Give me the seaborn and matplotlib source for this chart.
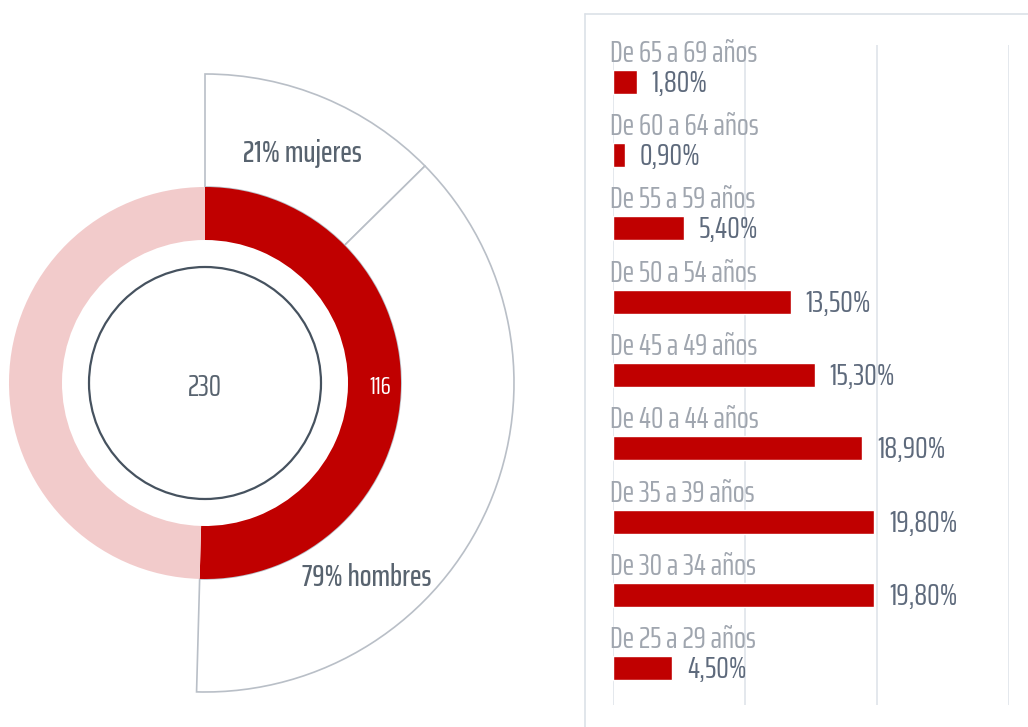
import matplotlib
matplotlib.use("Agg")
import matplotlib.pyplot as plt
from matplotlib.patches import Circle
from matplotlib.lines import Line2D
import seaborn as sns
import pandas as pd

# ---------------- data ----------------
age_groups = ["De 65 a 69 años", "De 60 a 64 años", "De 55 a 59 años",
              "De 50 a 54 años", "De 45 a 49 años", "De 40 a 44 años",
              "De 35 a 39 años", "De 30 a 34 años", "De 25 a 29 años"]
age_pct = [1.8, 0.9, 5.4, 13.5, 15.3, 18.9, 19.8, 19.8, 4.5]

total_count = 230
highlight_count = 116
ring_values = [highlight_count, total_count - highlight_count]

gender_labels = ["21% mujeres", "79% hombres"]
gender_wedges = [29, 87]          # angular share
grid_ticks = [0, 10, 20, 30]

# ---------------- style ----------------
sns.set_theme(style="white")
FONT = ["Saira ExtraCondensed", "Saira Condensed", "DejaVu Sans"]
plt.rcParams["font.family"] = FONT

RED = "#C00000"
PINK = "#F2CBCB"
LABEL_GREY = "#A0A6AF"
VALUE_GREY = "#5E6A7C"
TEXT_DARK = "#58636F"
GRID = "#E2E6EC"
EDGE = "#B9BFC7"

W, H = 1028, 727
fig = plt.figure(figsize=(W / 100, H / 100), dpi=100)
fig.patch.set_facecolor("white")
renderer = fig.canvas.get_renderer()


def fit_size(sample, target_px, weight="normal"):
    t = fig.text(0, 0, sample, fontsize=20, fontweight=weight)
    w = t.get_window_extent(renderer=renderer).width
    t.remove()
    return 20 * target_px / w


CAT_FS = fit_size("De 65 a 69 años", 148)
VAL_FS = fit_size("19,80%", 68)
GEN_FS = fit_size("21% mujeres", 119, "medium")
TOT_FS = fit_size("230", 34)
HIL_FS = fit_size("116", 22)

# ---------------- left: donut ----------------
axL = fig.add_axes([0, 0, 580 / W, 1])
cx, cy = 205, H - 383

outer_vals = gender_wedges + [total_count - sum(gender_wedges)]
wedges, _ = axL.pie(outer_vals, radius=309, center=(cx, cy), startangle=90,
                    counterclock=False, colors=["white", "white", "white"],
                    wedgeprops=dict(width=113, edgecolor=EDGE, linewidth=1.2))
wedges[2].set_visible(False)

ring, _ = axL.pie(ring_values, radius=196, center=(cx, cy), startangle=90,
                  counterclock=False, colors=[RED, PINK],
                  wedgeprops=dict(width=53, linewidth=0))
for w in ring:
    w.set_zorder(3)

axL.add_patch(Circle((cx, cy), 116, facecolor="white", edgecolor="#46525F",
                     linewidth=1.6, zorder=4))

axL.text(cx, cy - 4, str(total_count), ha="center", va="center",
         fontsize=TOT_FS, color=TEXT_DARK, zorder=5)
axL.text(380, cy - 4, str(highlight_count), ha="center", va="center",
         fontsize=HIL_FS, color="white", zorder=5)
axL.text(302, H - 153, gender_labels[0], ha="center", va="center",
         fontsize=GEN_FS, color=TEXT_DARK, fontweight="medium", zorder=5)
axL.text(367, H - 578, gender_labels[1], ha="center", va="center",
         fontsize=GEN_FS, color=TEXT_DARK, fontweight="medium", zorder=5)

axL.set_xlim(0, 580)
axL.set_ylim(0, H)
axL.set_aspect("auto")
axL.axis("off")

# ---------------- right: panel border ----------------
fig.add_artist(Line2D([585 / W, 1], [1 - 14 / H, 1 - 14 / H],
                      transform=fig.transFigure, color="#DCE1E8", lw=1.2))
fig.add_artist(Line2D([585 / W, 585 / W], [0, 1 - 14 / H],
                      transform=fig.transFigure, color="#DCE1E8", lw=1.2))

# ---------------- right: bars ----------------
axR = fig.add_axes([613 / W, 1 - 705 / H, (1009 - 613) / W, 660 / H])
df = pd.DataFrame({"grupo": age_groups, "pct": age_pct})
sns.barplot(data=df, x="pct", y="grupo", orient="h", color=RED,
            saturation=1, width=0.33, ax=axR, zorder=3)

axR.set_xlim(grid_ticks[0], grid_ticks[-1])
axR.set_ylim(len(age_groups) - 0.5, -0.5)
for t in grid_ticks:
    axR.axvline(t, color=GRID, lw=1.3, zorder=1)

for i, (lab, v) in enumerate(zip(age_groups, age_pct)):
    axR.text(-0.25, i - 0.39, lab, ha="left", va="center", fontsize=CAT_FS,
             color=LABEL_GREY, clip_on=False, zorder=5)
    axR.text(v + 1.1, i + 0.02, f"{v:.2f}".replace(".", ",") + "%",
             ha="left", va="center", fontsize=VAL_FS, color=VALUE_GREY,
             clip_on=False, zorder=5)

axR.set_xlabel("")
axR.set_ylabel("")
axR.set_xticks([])
axR.set_yticks([])
for s in axR.spines.values():
    s.set_visible(False)
axR.patch.set_alpha(0)

fig.savefig("out.png", dpi=100, facecolor="white")
